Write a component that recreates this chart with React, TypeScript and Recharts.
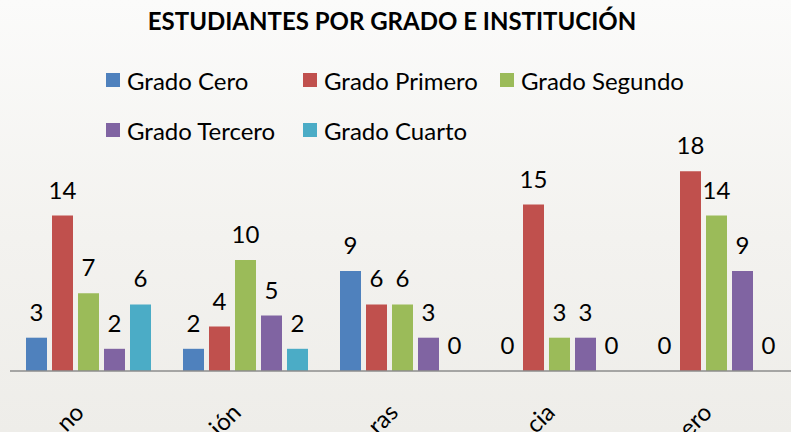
import React from "react";
import { BarChart, Bar, XAxis, YAxis, LabelList, Legend } from "recharts";

// institution names are cut off at the bottom of the picture; only the endings show
const institutions = ["no", "ión", "ras", "cia", "ero"];

const gradoCero = [3, 2, 9, 0, 0];
const gradoPrimero = [14, 4, 6, 15, 18];
const gradoSegundo = [7, 10, 6, 3, 14];
const gradoTercero = [2, 5, 3, 3, 9];
const gradoCuarto = [6, 2, 0, 0, 0];

const seriesNames = ["Grado Cero", "Grado Primero", "Grado Segundo", "Grado Tercero", "Grado Cuarto"];
const seriesColors = ["#4F81BD", "#C0504D", "#9BBB59", "#8064A2", "#4BACC6"];
const seriesValues = [gradoCero, gradoPrimero, gradoSegundo, gradoTercero, gradoCuarto];

const data = institutions.map((name, i) => {
  const row: Record<string, string | number> = { name };
  seriesNames.forEach((s, j) => {
    row[s] = seriesValues[j][i];
  });
  return row;
});

const FONT = "Lato, 'Open Sans', sans-serif";

const AngledTick = (props: any) => {
  const { x, y, payload } = props;
  const tx = x - 3;
  const ty = y + 43;
  return (
    <text
      x={tx}
      y={ty}
      textAnchor="end"
      transform={`rotate(-45 ${tx} ${ty})`}
      fill="#000"
      fontSize={24}
      fontFamily={FONT}
    >
      {payload.value}
    </text>
  );
};

const renderLegend = () => (
  <div style={{ display: "grid", gridTemplateColumns: "197px 197px 197px", fontFamily: FONT }}>
    {seriesNames.map((s, i) => (
      <div key={s} style={{ display: "flex", alignItems: "center", height: 50 }}>
        <span style={{ width: 14, height: 14, background: seriesColors[i], marginRight: 7 }} />
        <span style={{ fontSize: 24, color: "#000" }}>{s}</span>
      </div>
    ))}
  </div>
);

export default function App() {
  return (
    <div
      style={{
        position: "fixed",
        left: 0,
        top: 0,
        width: 791,
        height: 432,
        overflow: "hidden",
        background: "linear-gradient(180deg, #fbfbfa 0%, #f3f2ef 55%, #eeede9 100%)",
        fontFamily: FONT,
      }}
    >
      <div
        style={{
          position: "absolute",
          top: 6,
          left: 0,
          width: 784,
          textAlign: "center",
          fontWeight: 700,
          fontSize: 24,
          color: "#000",
        }}
      >
        ESTUDIANTES POR GRADO E INSTITUCIÓN
      </div>
      <BarChart
        width={800}
        height={432}
        data={data}
        margin={{ top: 149, right: 5, left: 10, bottom: 0 }}
        barSize={21}
        barGap={5}
      >
        <XAxis
          dataKey="name"
          height={61}
          tickLine={false}
          tickSize={0}
          tickMargin={0}
          axisLine={{ stroke: "#8c8c8c", strokeWidth: 1.5 }}
          tick={<AngledTick />}
          interval={0}
        />
        <YAxis hide domain={[0, 20]} />
        <Legend
          layout="horizontal"
          verticalAlign="middle"
          align="center"
          content={renderLegend}
          wrapperStyle={{ top: 55, left: 106, width: 620 }}
        />
        {seriesNames.map((s, i) => (
          <Bar key={s} dataKey={s} fill={seriesColors[i]} minPointSize={0.01} isAnimationActive={false}>
            <LabelList dataKey={s} position="top" offset={17} fill="#000" fontSize={24} fontFamily={FONT} />
          </Bar>
        ))}
      </BarChart>
    </div>
  );
}
